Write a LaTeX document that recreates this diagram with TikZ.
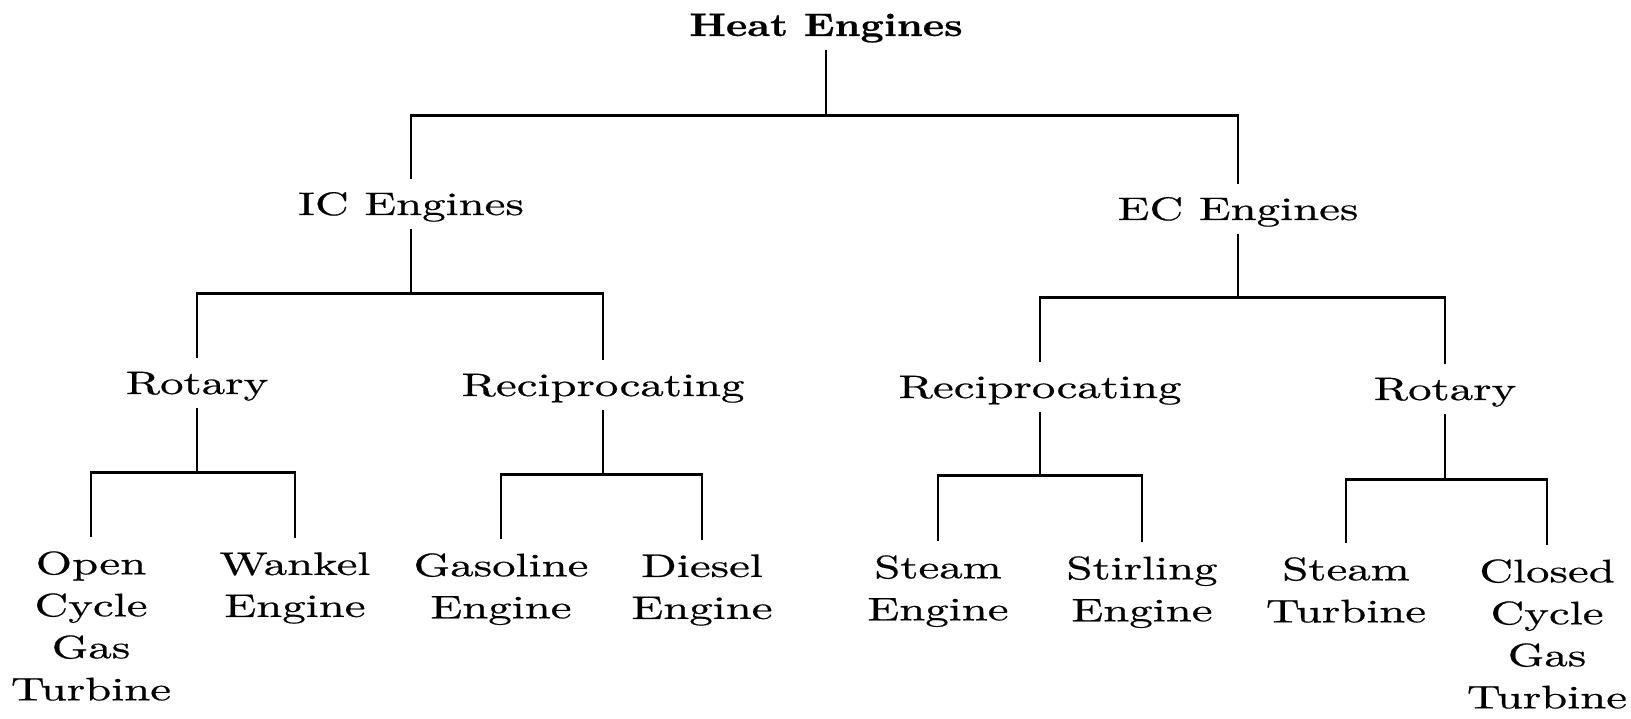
\documentclass[tikz,border=0pt]{standalone}
\usepackage{fontspec}
\setmainfont{lmroman10-regular.otf}[FakeStretch=1.44,FakeBold=0.6,BoldFont=lmroman10-bold.otf,BoldFeatures={FakeStretch=1.25}]

\begin{document}
\begin{tikzpicture}[auto,
      words/.style ={inner xsep=0pt, align=center, font=\fontsize{18.5}{23.9}\selectfont},
      kind/.style ={words, inner ysep=0pt, text height=0.72cm, text depth=0.28cm, anchor=base},
      leaf/.style ={words, inner ysep=0.28cm, anchor=north},
      branch/.style ={line width=1.5pt}]
   \useasboundingbox (0,0) rectangle (32.62,-14.38);
   \node[kind,font=\fontsize{18.5}{23.9}\selectfont\bfseries] (heat) at (16.52,-0.72) {Heat Engines};
   \node[kind] (ic)  at (8.22,-4.30)  {IC Engines};
   \node[kind] (ec)  at (24.76,-4.40) {EC Engines};
   \node[kind] (icrot) at (3.94,-7.88)  {Rotary};
   \node[kind] (icrec) at (12.06,-7.92) {Reciprocating};
   \node[kind] (ecrec) at (20.80,-7.96) {Reciprocating};
   \node[kind] (ecrot) at (28.90,-8.00) {Rotary};
   \node[leaf] (ocgt)     at (1.82,-10.74)  {Open\\Cycle\\Gas\\Turbine};
   \node[leaf] (wankel)   at (5.90,-10.76)  {Wankel\\Engine};
   \node[leaf] (gasoline) at (10.02,-10.78) {Gasoline\\Engine};
   \node[leaf] (diesel)   at (14.04,-10.80) {Diesel\\Engine};
   \node[leaf] (steameng) at (18.76,-10.82) {Steam\\Engine};
   \node[leaf] (stirling) at (22.84,-10.84) {Stirling\\Engine};
   \node[leaf] (steamtur) at (26.92,-10.86) {Steam\\Turbine};
   \node[leaf] (ccgt)     at (30.94,-10.90) {Closed\\Cycle\\Gas\\Turbine};
   % heat engines
   \draw[branch] (heat.south) -- ++(0,-1.3) -| (ic.north);
   \draw[branch] (heat.south) -- ++(0,-1.3) -| (ec.north);
   % internal combustion
   \draw[branch] (ic.south) -- ++(0,-1.28) -| (icrot.north);
   \draw[branch] (ic.south) -- ++(0,-1.28) -| (icrec.north);
   \draw[branch] (icrot.south) -- ++(0,-1.28) -| (ocgt.north);
   \draw[branch] (icrot.south) -- ++(0,-1.28) -| (wankel.north);
   \draw[branch] (icrec.south) -- ++(0,-1.28) -| (gasoline.north);
   \draw[branch] (icrec.south) -- ++(0,-1.28) -| (diesel.north);
   % external combustion
   \draw[branch] (ec.south) -- ++(0,-1.26) -| (ecrec.north);
   \draw[branch] (ec.south) -- ++(0,-1.26) -| (ecrot.north);
   \draw[branch] (ecrec.south) -- ++(0,-1.26) -| (steameng.north);
   \draw[branch] (ecrec.south) -- ++(0,-1.26) -| (stirling.north);
   \draw[branch] (ecrot.south) -- ++(0,-1.30) -| (steamtur.north);
   \draw[branch] (ecrot.south) -- ++(0,-1.30) -| (ccgt.north);
 \end{tikzpicture}
\end{document}
